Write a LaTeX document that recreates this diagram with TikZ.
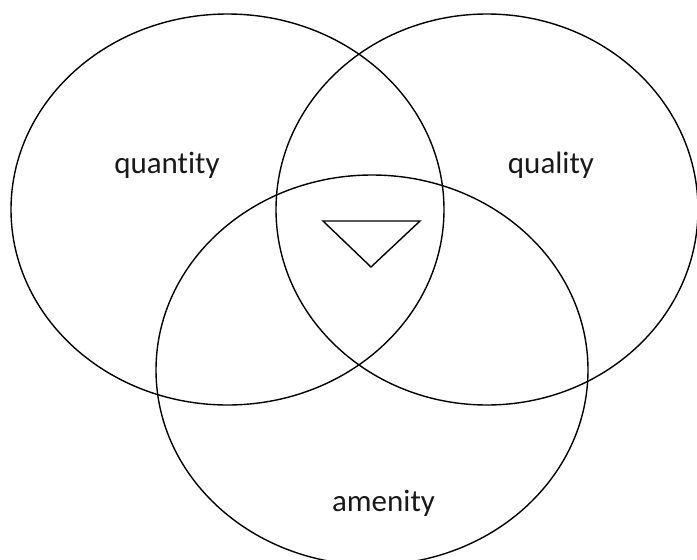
\documentclass[tikz,border=0pt]{standalone}
\usepackage{fontspec}
\setmainfont[Ligatures={NoCommon,NoRare,NoContextual}]{Carlito}
\begin{document}
\begin{tikzpicture}[x=1pt,y=-1pt,
  ring/.style={draw=black,line width=1.4pt},
  lbl/.style={font=\fontsize{31}{36}\selectfont,text=black!90,inner sep=0pt}]
\useasboundingbox (0,0) rectangle (697,560);
\begin{scope}
\clip (0,0) rectangle (697,560);
\draw[ring] (227.5,209.5) ellipse [x radius=216.5, y radius=195.5];
\draw[ring] (487,209.5) ellipse [x radius=211, y radius=195.5];
\draw[ring] (372,370) ellipse [x radius=216, y radius=195];
\end{scope}
\coordinate (t1) at (323,221);
\coordinate (t2) at (420,221);
\coordinate (t3) at (371,267);
\draw[ring,line join=miter] (t1) -- (t2) -- (t3) -- cycle;
\node[lbl] (qn) at (167,165) {quant\kern0pt ity};
\node[lbl] (ql) at (551,165) {quality};
\node[lbl] (am) at (383.5,503) {amenity};
\end{tikzpicture}
\end{document}
